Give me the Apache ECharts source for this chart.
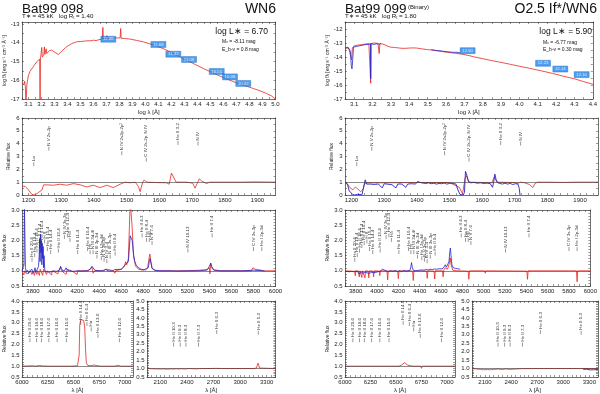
<!DOCTYPE html>
<html><head><meta charset="utf-8">
<script src="https://cdn.jsdelivr.net/npm/echarts@6.0.0/dist/echarts.min.js"></script>
<style>html,body{margin:0;padding:0;background:#fff;}#chart{width:600px;height:394px;}</style>
</head><body><div id="chart"></div>
<script>
// ================= DATA =================
// tick labels
const sedXTicks098 = [3.1,3.2,3.3,3.4,3.5,3.6,3.7,3.8,3.9,4.0,4.1,4.2,4.3,4.4,4.5,4.6,4.7,4.8,4.9,5.0];
const sedXTicks099 = [3.1,3.2,3.3,3.4,3.5,3.6,3.7,3.8,3.9,4.0,4.1,4.2,4.3,4.4];
const sedYTicks098 = [-17,-16,-15,-14,-13];
const sedYTicks099 = [-17,-16,-15,-14,-13,-12];
const uvXTicks = [1200,1300,1400,1500,1600,1700,1800,1900];
const uvYTicks = [0,1,2,3,4,5,6];
const optXTicks = [3800,4000,4200,4400,4600,4800,5000,5200,5400,5600,5800,6000];
const optYTicks = [0.5,1.0,1.5,2.0,2.5,3.0];
const haXTicks = [6000,6250,6500,6750,7000];
const haYTicks = [0.5,1.0,1.5,2.0,2.5,3.0,3.5,4.0];
const uv2XTicks = [2100,2400,2700,3000,3300];
const uv2YTicks = [0.5,1.0,1.5,2.0,2.5,3.0,3.5,4.0,4.5,5.0];

// SED Bat99 098 : [log lambda, log f_lambda]
const sed098Model = [[3.050,-16.10],[3.058,-16.02],[3.064,-16.25],[3.070,-16.05],[3.076,-16.35],[3.080,-17.3],[3.084,-17.3],[3.088,-16.2],[3.094,-15.95],[3.100,-15.73],[3.106,-15.80],[3.112,-15.52],[3.118,-15.60],[3.124,-15.40],[3.130,-15.44],[3.137,-15.28],[3.143,-15.33],[3.149,-15.15],[3.156,-15.20],[3.163,-15.02],[3.170,-15.05],[3.178,-14.93],[3.186,-14.86],[3.189,-17.3],[3.192,-14.86],[3.198,-14.80],[3.202,-14.25],[3.206,-14.76],[3.212,-14.70],[3.218,-14.64],[3.222,-14.22],[3.226,-14.62],[3.232,-14.58],[3.236,-14.32],[3.240,-14.57],[3.250,-14.48],[3.262,-14.42],[3.278,-14.39],[3.292,-14.44],[3.306,-14.52],[3.320,-14.59],[3.330,-14.62],[3.343,-14.55],[3.356,-14.45],[3.368,-14.39],[3.385,-14.25],[3.400,-14.16],[3.420,-14.09],[3.445,-14.01],[3.470,-13.95],[3.500,-13.93],[3.520,-13.92],[3.540,-13.90],[3.545,-13.80],[3.550,-13.90],[3.580,-13.89],[3.600,-13.86],[3.620,-13.88],[3.650,-13.82],[3.668,-13.80],[3.672,-13.18],[3.676,-13.80],[3.700,-13.78],[3.703,-13.62],[3.706,-13.78],[3.740,-13.76],[3.780,-13.74],[3.805,-13.74],[3.809,-13.24],[3.813,-13.76],[3.840,-13.77],[3.880,-13.80],[3.930,-13.87],[3.983,-13.95],[4.030,-14.05],[4.086,-14.18],[4.140,-14.32],[4.188,-14.48],[4.250,-14.70],[4.317,-14.93],[4.380,-15.15],[4.445,-15.37],[4.510,-15.58],[4.573,-15.78],[4.640,-15.97],[4.700,-16.14],[4.770,-16.30],[4.830,-16.44],[4.880,-16.56],[4.930,-16.70],[4.970,-16.84],[5.000,-17.00]];
const sed098Phot = [[3.714,-13.81],[4.099,-14.09],[4.214,-14.61],[4.335,-14.89],[4.548,-15.53],[4.650,-15.82],[4.752,-16.17]];
const sed098PhotLabels = ['12.88','11.68','11.32','11.08','10.51','10.38','10.22'];

// SED Bat99 099
const sed099Model = [[3.050,-13.38],[3.060,-13.42],[3.070,-13.36],[3.080,-13.45],[3.086,-14.20],[3.090,-13.35],[3.100,-13.20],[3.110,-13.22],[3.120,-13.15],[3.130,-13.18],[3.140,-13.12],[3.150,-13.14],[3.160,-13.07],[3.170,-13.10],[3.180,-13.05],[3.188,-13.04],[3.190,-15.88],[3.192,-13.04],[3.200,-13.06],[3.210,-13.00],[3.220,-13.05],[3.230,-13.03],[3.236,-13.75],[3.240,-13.05],[3.255,-13.07],[3.270,-13.15],[3.285,-13.24],[3.300,-13.30],[3.310,-13.40],[3.320,-13.32],[3.330,-13.42],[3.340,-13.35],[3.360,-13.38],[3.380,-13.38],[3.400,-13.36],[3.420,-13.35],[3.440,-13.36],[3.460,-13.40],[3.480,-13.44],[3.500,-13.47],[3.522,-13.50],[3.560,-13.57],[3.610,-13.67],[3.650,-13.73],[3.683,-13.79],[3.720,-13.88],[3.750,-13.98],[3.800,-14.12],[3.850,-14.26],[3.879,-14.33],[3.950,-14.52],[4.000,-14.66],[4.057,-14.81],[4.120,-14.99],[4.180,-15.17],[4.236,-15.36],[4.300,-15.56],[4.350,-15.76],[4.401,-15.95]];
const sed099Obs = [[3.050,-13.35],[3.058,-13.40],[3.066,-13.30],[3.074,-13.42],[3.080,-13.60],[3.084,-14.60],[3.088,-14.85],[3.092,-14.20],[3.096,-13.30],[3.104,-13.18],[3.112,-13.25],[3.120,-13.12],[3.128,-13.20],[3.136,-13.10],[3.144,-13.16],[3.152,-13.08],[3.160,-13.12],[3.168,-13.04],[3.176,-13.10],[3.184,-13.02],[3.189,-13.05],[3.190,-15.55],[3.191,-13.05],[3.198,-13.00],[3.206,-13.10],[3.214,-12.98],[3.222,-13.06],[3.230,-12.99],[3.238,-13.08],[3.246,-13.02],[null,null],[3.520,-13.48],[3.550,-13.54],[3.580,-13.58],[3.610,-13.63],[3.640,-13.67],[3.660,-13.66],[3.680,-13.72]];
const sed099Phot = [[3.718,-13.55],[4.129,-14.45],[4.223,-14.86],[4.339,-15.26]];
const sed099PhotLabels = ['12.60','12.23','12.14','12.10'];

// UV relative flux : [lambda, flux]
const uv098Model = [[1180,0.72],[1190,0.66],[1200,0.39],[1210,0.05],[1220,0.0],[1231,0.21],[1241,0.39],[1246,0.79],[1256,0.79],[1276,0.76],[1297,0.84],[1317,0.76],[1337,0.89],[1358,0.79],[1378,0.63],[1398,0.76],[1419,0.58],[1439,0.76],[1459,0.58],[1480,0.84],[1495,1.0],[1510,0.95],[1526,1.0],[1536,0.66],[1541,0.26],[1549,1.0],[1554,1.18],[1561,1.0],[1592,0.97],[1622,0.95],[1630,0.84],[1637,1.71],[1642,1.58],[1651,1.0],[1683,1.0],[1702,0.92],[1709,0.53],[1716,0.92],[1722,1.26],[1729,1.1],[1744,0.89],[1754,1.0],[1775,1.0],[1850,1.0],[1890,1.02],[1955,1.0]];
const uv099Model = [[1180,0.92],[1188,0.85],[1196,0.55],[1204,0.40],[1212,0.62],[1220,0.45],[1228,0.25],[1236,0.5],[1240,0.9],[1250,0.95],[1300,0.95],[1400,0.97],[1500,0.97],[1530,0.6],[1540,0.1],[1548,1.3],[1552,1.5],[1560,1.0],[1630,0.95],[1637,1.4],[1645,1.0],[1700,0.97],[1710,0.9],[1717,1.0],[1722,1.05],[1730,0.95],[1745,0.82],[1755,0.58],[1762,0.9],[1770,1.0],[1800,1.0],[1850,0.98],[1890,1.0],[1955,1.0]];
const uv099Obs = [[1183,1.0],[1188,0.79],[1193,0.32],[1198,0.21],[1203,0.05],[1210,0.0],[1218,0.05],[1224,0.0],[1232,0.02],[1238,0.1],[1242,1.18],[1246,0.85],[1252,0.92],[1258,0.85],[1264,0.9],[1270,0.82],[1276,0.9],[1282,0.86],[1288,0.92],[1294,0.55],[1300,0.88],[1306,0.92],[1312,0.84],[1318,0.9],[1324,0.8],[1330,0.88],[1336,0.55],[1342,0.86],[1348,0.92],[1354,0.85],[1360,0.9],[1366,0.6],[1372,0.85],[1378,0.92],[1384,0.88],[1390,0.95],[1396,0.85],[1402,1.05],[1408,1.1],[1414,0.95],[1420,1.0],[1428,0.9],[1436,0.95],[1444,0.88],[1452,0.92],[1460,0.85],[1468,0.9],[1476,0.88],[1484,0.93],[1492,0.85],[1500,0.9],[1508,0.92],[1514,0.8],[1520,0.85],[1526,0.4],[1532,0.05],[1538,0.0],[1542,0.0],[1546,0.2],[1549,1.85],[1553,1.55],[1558,1.05],[1565,0.95],[1575,0.98],[1585,0.92],[1595,0.95],[1605,0.9],[1615,0.93],[1625,0.88],[1632,0.6],[1636,1.1],[1639,1.63],[1643,1.2],[1648,0.95],[1655,0.9],[1662,0.85],[1670,0.92],[1678,0.85],[1686,0.9],[1694,0.82],[1702,0.88],[1710,0.85],[1714,0.5],[1716,0.0]];

// Optical relative flux
const opt098Obs = [[3700,1.0],[3712,0.97],[3718,1.2],[3722,3.1],[3727,3.1],[3731,1.1],[3740,0.95],[3750,1.02],[3760,0.92],[3770,1.0],[3780,0.95],[3790,1.05],[3800,0.93],[3810,1.0],[3818,1.1],[3826,0.95],[3834,1.0],[3842,0.95],[3850,1.15],[3856,1.5],[3860,2.05],[3864,1.3],[3868,2.2],[3872,1.6],[3876,2.0],[3880,1.2],[3884,1.9],[3888,1.4],[3892,1.8],[3896,1.1],[3900,1.5],[3906,1.05],[3912,0.98],[3925,1.0],[3940,0.96],[3955,1.0],[3970,0.97],[3990,1.0],[4010,0.98],[4040,1.02],[4050,1.15],[4058,1.08],[4070,1.0],[4090,1.02],[4100,1.1],[4110,1.03],[4130,1.0],[4160,0.98],[4200,1.0],[4240,0.99],[4290,1.0],[4320,1.05],[4335,1.15],[4345,1.1],[4360,1.02],[4400,1.0],[4440,1.0],[4460,1.05],[4470,1.08],[4480,1.0],[4520,0.99],[4540,1.04],[4550,1.0],[4600,1.05],[4620,1.12],[4635,1.2],[4650,1.15],[4665,1.3],[4675,1.8],[4682,2.15],[4690,2.2],[4700,2.0],[4710,1.6],[4720,1.35],[4735,1.2],[4750,1.12],[4780,1.05],[4820,1.03],[4845,1.1],[4855,1.3],[4862,1.4],[4870,1.25],[4880,1.08],[4900,1.02],[4950,1.0],[5000,1.0],[5050,1.0],[5100,0.99],[5200,1.0],[5300,1.0],[5380,1.03],[5400,1.15],[5412,1.25],[5420,1.15],[5440,1.03],[5500,1.0],[5600,1.0],[5700,1.0],[5800,1.02],[5900,1.0]];
const opt098Model = [[3700,0.98],[3718,0.88],[3725,1.0],[3740,0.9],[3760,0.92],[3775,1.0],[3790,0.88],[3800,0.95],[3813,0.85],[3820,1.0],[3835,0.88],[3842,1.0],[3858,0.85],[3865,1.05],[3888,0.85],[3895,1.05],[3923,0.88],[3930,1.0],[3968,0.86],[3975,1.0],[4026,0.9],[4032,1.0],[4050,1.12],[4058,1.0],[4100,0.88],[4110,1.05],[4150,1.0],[4200,0.88],[4206,1.0],[4300,1.0],[4335,1.12],[4345,0.92],[4360,1.0],[4420,1.0],[4470,1.05],[4480,1.0],[4530,1.0],[4542,0.92],[4550,1.0],[4600,1.05],[4630,1.15],[4640,1.3],[4650,1.2],[4665,1.4],[4675,2.5],[4682,3.3],[4692,3.3],[4700,2.4],[4712,1.5],[4730,1.15],[4760,1.05],[4800,1.02],[4840,1.1],[4852,1.4],[4860,1.55],[4868,1.35],[4880,1.08],[4920,1.0],[5000,1.0],[5100,1.0],[5200,1.0],[5380,1.03],[5400,1.1],[5405,0.9],[5412,1.25],[5420,1.1],[5440,1.02],[5500,1.0],[5780,1.0],[5795,1.1],[5806,1.12],[5815,1.05],[5830,1.0],[5870,1.02],[5880,1.04],[5890,1.0],[6000,1.0]];
const opt099Obs = [[3700,0.97],[3710,0.95],[3720,0.98],[3730,0.93],[3740,0.97],[3750,0.94],[3760,0.98],[3770,0.92],[3780,0.97],[3790,0.95],[3800,0.99],[3810,0.93],[3820,0.97],[3830,0.9],[3840,0.96],[3850,0.94],[3860,0.98],[3870,0.92],[3880,0.97],[3890,0.95],[3900,0.98],[3910,0.93],[3920,0.96],[3930,0.92],[3940,0.98],[3950,0.95],[3960,0.99],[3970,0.94],[3980,0.98],[3990,0.95],[4010,0.97],[4030,0.99],[4045,1.02],[4052,1.05],[4058,1.1],[4064,1.05],[4072,1.02],[4090,1.0],[4110,0.97],[4130,1.0],[4150,0.98],[4170,1.01],[4190,0.98],[4210,1.0],[4230,0.97],[4250,1.01],[4270,0.99],[4290,1.0],[4310,1.02],[4318,1.15],[4324,1.27],[4330,1.12],[4340,1.02],[4360,1.0],[4380,1.01],[4400,1.02],[4420,1.03],[4440,1.02],[4460,1.04],[4480,1.03],[4500,1.05],[4520,1.04],[4540,1.06],[4560,1.05],[4580,1.07],[4600,1.06],[4620,1.08],[4632,1.12],[4640,1.2],[4650,1.12],[4665,1.15],[4675,1.3],[4682,1.6],[4688,1.75],[4694,1.5],[4702,1.2],[4715,1.1],[4735,1.08],[4755,1.07],[4770,1.08],[4780,1.05]];
const opt099Model = [[3700,1.0],[3750,0.99],[3790,0.98],[3796,0.84],[3802,1.0],[3828,0.99],[3834,0.8],[3840,1.0],[3852,0.99],[3858,0.78],[3864,1.0],[3881,0.99],[3887,0.77],[3893,1.0],[3917,0.99],[3923,0.77],[3929,1.0],[3962,0.99],[3968,0.8],[3974,1.0],[4020,0.99],[4026,0.84],[4032,1.0],[4050,1.05],[4060,1.0],[4094,0.99],[4100,0.7],[4106,1.0],[4194,0.99],[4200,0.74],[4206,1.0],[4334,0.99],[4340,0.68],[4346,1.0],[4465,0.99],[4471,0.75],[4477,1.0],[4535,0.99],[4541,0.73],[4547,1.0],[4614,1.0],[4620,0.8],[4626,1.02],[4640,1.1],[4660,1.05],[4675,1.2],[4686,1.42],[4695,1.2],[4710,1.02],[4750,1.0],[4855,0.99],[4861,0.72],[4867,1.0],[5010,1.0],[5015,0.92],[5020,1.0],[5405,0.99],[5411,0.72],[5417,1.0],[5795,1.0],[5806,1.05],[5815,1.0],[5870,1.0],[5876,0.64],[5882,1.0],[6000,1.0]];

// H-alpha region
const ha098Model = [[6000,1.0],[6060,1.01],[6100,1.02],[6130,1.0],[6170,1.03],[6200,1.01],[6260,1.0],[6330,1.0],[6400,1.0],[6480,1.0],[6540,1.02],[6548,1.02],[6556,1.5],[6562,2.9],[6572,3.15],[6588,3.22],[6600,3.1],[6610,2.8],[6618,1.8],[6626,1.15],[6640,1.03],[6670,1.02],[6700,1.05],[6720,1.03],[6760,1.0],[6900,1.0],[6940,1.04],[6960,1.0],[7080,1.0]];
const ha099Model = [[6000,1.0],[6060,1.0],[6068,0.95],[6076,1.0],[6110,1.0],[6118,0.95],[6126,1.0],[6160,1.0],[6168,0.95],[6176,1.0],[6237,1.0],[6245,0.94],[6253,1.0],[6317,1.0],[6325,0.94],[6333,1.0],[6427,1.0],[6435,0.93],[6443,1.0],[6530,1.0],[6545,0.93],[6555,1.05],[6570,1.12],[6585,1.16],[6600,1.1],[6615,1.05],[6630,1.02],[6660,1.0],[6743,1.0],[6751,0.9],[6759,1.0],[6959,1.0],[6967,0.91],[6975,1.0],[7080,1.0]];

// Near-UV region
const uv2098Model = [[1950,1.0],[2000,0.99],[2050,0.98],[2100,0.97],[2140,0.98],[2180,0.96],[2220,0.98],[2253,0.97],[2280,0.99],[2306,0.97],[2340,0.99],[2385,0.97],[2420,1.0],[2470,0.99],[2511,0.98],[2540,1.0],[2650,1.0],[2715,1.01],[2733,1.06],[2750,1.01],[2800,1.0],[3150,1.0],[3185,1.03],[3195,1.2],[3203,1.32],[3211,1.2],[3220,1.03],[3240,1.0],[3400,1.0]];
const uv2099Model = [[1950,1.0],[2000,0.98],[2050,0.95],[2080,0.93],[2100,0.92],[2130,0.94],[2160,0.93],[2200,0.95],[2253,0.97],[2300,0.94],[2340,0.98],[2385,0.95],[2400,1.0],[2505,0.99],[2511,0.94],[2520,1.0],[2725,1.0],[2733,0.97],[2740,1.0],[3195,1.0],[3203,1.02],[3210,1.0],[3400,1.0]];
const uv2099Obs = [[3230,0.95],[3250,0.93],[3270,0.96],[3290,0.94],[3310,0.92],[3330,0.95],[3350,0.93],[3370,0.95],[3390,0.94],[3400,0.95]];

// line identifications : [lambda, flux at foot of tick, label]
const uvLineIds = [[1216,2.25,'Lα'],[1262,3.45,'N V 2s-2p'],[1485,3.1,'N IV 2s2p-2p²'],[1560,2.6,'C IV 2s-2p, N IV'],[1657,3.9,'He II 3-2'],[1718,3.85,'N IV']];
const optLineIds = [[3791,1.30,'He II 20-4'],[3815,1.45,'He II 19-4'],[3836,1.60,'He II 18-4'],[3858,1.75,'He II 17-4'],[3880,1.85,'He II 16-4'],[3905,1.90,'H 8'],[3930,1.65,'He II 15-4'],[3960,1.55,'He II 14-4'],[4030,1.60,'He II 13-4'],[4085,2.05,'N IV 3s-3p'],[4112,2.10,'He II 12-4'],[4135,1.95,'Hδ'],[4205,1.55,'He II 11-4'],[4295,1.65,'He II 10-4'],[4318,1.55,'Hγ'],[4345,1.55,'N III 3d-4f'],[4380,1.40,'N III 3p-3d'],[4420,1.35,'He I 2p-4d'],[4445,1.30,'N V 3s-3p'],[4470,1.25,'N IV 3-4'],[4500,1.40,'N III 3s-3p'],[4545,1.50,'He II 9-4'],[4790,2.10,'He II 4-3'],[4830,1.95,'He II 8-4'],[4855,1.95,'Hβ'],[4880,1.85,'N V 7-6'],[5205,1.60,'N IV 10-13'],[5425,2.10,'He II 7-4'],[5800,1.65,'C IV 3s-3p'],[5876,1.65,'He I 2p-3d']];
const haLineIds = [[6077,2.1,'He II 20-6'],[6142,2.1,'He II 19-6'],[6190,2.1,'He II 18-6'],[6261,2.1,'He II 17-6'],[6342,2.1,'He II 16-6'],[6432,2.1,'He II 15-6'],[6571,2.9,'He II 14-6'],[6632,2.85,'He II 6-4'],[6674,2.6,'Hα'],[6739,2.3,'He II 13-6'],[6948,2.1,'He II 12-6']];
const uv2LineIds = [[2250,2.3,'He II 10-3'],[2325,2.3,'He II 9-3'],[2389,2.3,'He II 8-3'],[2531,2.3,'He II 7-3'],[2737,3.05,'He II 6-3'],[3206,3.0,'He II 5-3']];

// ================= CHART =================
const FF = '"Liberation Sans", Arial, Helvetica, sans-serif';
const RED = '#e4271f', BLUE = '#2323c8', BOX = '#2385e8', INK = '#222';
function steps(a, b, s){ const r=[]; const n=Math.round((b-a)/s); for(let i=0;i<=n;i++) r.push(+(a+i*s).toFixed(4)); return r; }

const layout = [
  {left:22, top:22, width:253.5, height:77},
  {left:345, top:22, width:253, height:77},
  {left:22, top:118, width:253.5, height:77},
  {left:345, top:118, width:253, height:77},
  {left:22, top:210, width:253.5, height:76},
  {left:345, top:210, width:253, height:76},
  {left:22, top:301, width:111, height:78},
  {left:147, top:301, width:128.5, height:78},
  {left:345, top:301, width:110, height:78},
  {left:472, top:301, width:126, height:78}
];
const REL = 'Relative flux', SEDY = 'log fλ [erg s⁻¹ cm⁻² Å⁻¹]';
const spec = [
  {x:[3.05,5.0], xl:sedXTicks098, xt:steps(3.05,5.0,0.05), xd:1, y:[-17,-12.89], yl:sedYTicks098, yt:steps(-17,-13,0.5), yd:0, xn:'log λ [Å]', yn:SEDY, yg:15},
  {x:[3.05,4.4], xl:sedXTicks099, xt:steps(3.05,4.4,0.05), xd:1, y:[-17,-11.5], yl:sedYTicks099, yt:steps(-17,-11.5,0.5), yd:0, xn:'log λ [Å]', yn:SEDY, yg:15},
  {x:[1180,1955], xl:uvXTicks, xt:steps(1180,1940,20), xd:0, y:[0,6], yl:uvYTicks, yt:steps(0,6,0.5), yd:0, yn:REL, yg:11},
  {x:[1180,1955], xl:uvXTicks, xt:steps(1180,1940,20), xd:0, y:[0,6], yl:uvYTicks, yt:steps(0,6,0.5), yd:0, yn:REL, yg:11},
  {x:[3700,6000], xl:optXTicks, xt:steps(3700,6000,50), xd:0, y:[0.5,3.0], yl:optYTicks, yt:steps(0.5,3.0,0.1), yd:1, yn:REL, yg:14},
  {x:[3700,6000], xl:optXTicks, xt:steps(3700,6000,50), xd:0, y:[0.5,3.0], yl:optYTicks, yt:steps(0.5,3.0,0.1), yd:1, yn:REL, yg:14},
  {x:[6000,7080], xl:haXTicks, xt:steps(6000,7050,50), xd:0, y:[0.5,4.0], yl:haYTicks, yt:steps(0.5,4.0,0.1), yd:1, xn:'λ [Å]', yn:REL, yg:14},
  {x:[1950,3400], xl:uv2XTicks, xt:steps(1950,3400,50), xd:0, y:[0.5,5.0], yl:uv2YTicks, yt:steps(0.5,5.0,0.1), yd:1, xn:'λ [Å]'},
  {x:[6000,7080], xl:haXTicks, xt:steps(6000,7050,50), xd:0, y:[0.5,4.0], yl:haYTicks, yt:steps(0.5,4.0,0.1), yd:1, xn:'λ [Å]', yn:REL, yg:14},
  {x:[1950,3400], xl:uv2XTicks, xt:steps(1950,3400,50), xd:0, y:[0.5,5.0], yl:uv2YTicks, yt:steps(0.5,5.0,0.1), yd:1, xn:'λ [Å]'}
];

const xAxis = [], yAxis = [];
const axLine = {show:true, onZero:false, lineStyle:{color:'#333', width:0.7}};
spec.forEach((s, gi) => {
  const xt = s.xt.filter(v => v >= s.x[0] && v <= s.x[1]);
  const yt = s.yt.filter(v => v >= s.y[0] && v <= s.y[1]);
  const base = {type:'value', gridIndex:gi, splitLine:{show:false}, axisLine:axLine};
  xAxis.push(Object.assign({}, base, {position:'bottom', min:s.x[0], max:s.x[1],
    name:s.xn || '', nameLocation:'middle', nameGap:10, nameTextStyle:{fontSize:6, color:INK, fontFamily:FF},
    axisTick:{show:true, inside:true, length:2, customValues:xt, lineStyle:{color:'#333', width:0.5}},
    axisLabel:{show:true, customValues:s.xl, fontSize:6, color:INK, margin:2.5, fontFamily:FF, formatter:v => Number(v).toFixed(s.xd)}}));
  xAxis.push(Object.assign({}, base, {position:'top', min:s.x[0], max:s.x[1],
    axisTick:{show:true, inside:true, length:2, customValues:xt, lineStyle:{color:'#333', width:0.5}},
    axisLabel:{show:false}}));
  yAxis.push(Object.assign({}, base, {position:'left', min:s.y[0], max:s.y[1],
    name:s.yn || '', nameLocation:'middle', nameGap:s.yg || 12, nameRotate:90, nameTextStyle:{fontSize:5, color:INK, fontFamily:FF},
    axisTick:{show:true, inside:true, length:2, customValues:yt, lineStyle:{color:'#333', width:0.5}},
    axisLabel:{show:true, customValues:s.yl, fontSize:6, color:INK, margin:2.5, fontFamily:FF, formatter:v => Number(v).toFixed(s.yd)}}));
  yAxis.push(Object.assign({}, base, {position:'right', min:s.y[0], max:s.y[1],
    axisTick:{show:true, inside:true, length:2, customValues:yt, lineStyle:{color:'#333', width:0.5}},
    axisLabel:{show:false}}));
});

function line(gi, data, color, width, z, ref){
  const s = {type:'line', xAxisIndex:2*gi, yAxisIndex:2*gi, data:data, showSymbol:false, symbol:'none',
    connectNulls:false, clip:true, silent:true, animation:false, z:z,
    lineStyle:{color:color, width:width}, itemStyle:{color:color}};
  if (ref) s.markLine = {silent:true, symbol:['none','none'], label:{show:false}, animation:false,
    lineStyle:{color:'#3a3a3a', width:0.6, type:'solid'}, data:[{yAxis:1}]};
  return s;
}
function anno(gi, list){
  return {type:'custom', xAxisIndex:2*gi, yAxisIndex:2*gi, silent:true, animation:false, z:6, clip:false,
    data:list.map(d => [d[0], d[1]]), encode:{x:0, y:1},
    renderItem:function(params, api){
      const p = api.coord([api.value(0), api.value(1)]);
      const txt = list[params.dataIndex][2];
      return {type:'group', children:[
        {type:'line', shape:{x1:p[0], y1:p[1], x2:p[0], y2:p[1]-4}, style:{stroke:'#333', lineWidth:0.5}},
        {type:'text', x:p[0], y:p[1]-5, rotation:Math.PI/2,
          style:{text:txt, align:'left', verticalAlign:'middle', fontSize:4.4, fill:'#333', fontFamily:FF}}
      ]};
    }};
}
function phot(gi, data, labels){
  return {type:'scatter', xAxisIndex:2*gi, yAxisIndex:2*gi, data:data, symbol:'rect', symbolSize:[15,6],
    silent:true, animation:false, z:8, itemStyle:{color:BOX, borderColor:'#1560b8', borderWidth:0.4},
    label:{show:true, position:'inside', fontSize:4.3, color:'#fff', fontFamily:FF,
      formatter:p => labels[p.dataIndex]}};
}

const series = [
  line(0, sed098Model, RED, 0.8, 3),
  phot(0, sed098Phot, sed098PhotLabels),
  line(1, sed099Model, RED, 0.8, 3),
  line(1, sed099Obs, BLUE, 0.8, 4),
  phot(1, sed099Phot, sed099PhotLabels),
  line(2, uv098Model, RED, 0.8, 3, true),
  anno(2, uvLineIds),
  line(3, uv099Model, RED, 0.8, 3, true),
  line(3, uv099Obs, BLUE, 0.9, 4),
  anno(3, uvLineIds),
  line(4, opt098Model, RED, 0.8, 3, true),
  line(4, opt098Obs, BLUE, 0.8, 4),
  anno(4, optLineIds),
  line(5, opt099Model, RED, 0.8, 3, true),
  line(5, opt099Obs, BLUE, 0.8, 4),
  anno(5, optLineIds),
  line(6, ha098Model, RED, 0.8, 3, true),
  anno(6, haLineIds),
  line(7, uv2098Model, RED, 0.8, 3, true),
  anno(7, uv2LineIds),
  line(8, ha099Model, RED, 0.8, 3, true),
  anno(8, haLineIds),
  line(9, uv2099Model, RED, 0.8, 3, true),
  line(9, uv2099Obs, BLUE, 0.9, 4),
  anno(9, uv2LineIds)
];

function txt(x, y, text, size, align, extra){
  return {type:'text', x:x, y:y, silent:true, z:20,
    style:Object.assign({text:text, fontSize:size, fill:'#111', fontFamily:FF, align:align || 'left', verticalAlign:'middle'}, extra || {})};
}
const graphic = [
  txt(22, 9, 'Bat99 098', 13.5),
  txt(276, 9, 'WN6', 14, 'right'),
  txt(22, 16, 'T∗ = 45 kK   log Rₜ = 1.40', 6.2),
  txt(345, 9, 'Bat99 099', 13.5),
  txt(408, 7, '(Binary)', 6),
  txt(597, 9, 'O2.5 If*/WN6', 14, 'right'),
  txt(345, 16, 'T∗ = 45 kK   log Rₜ = 1.80', 6.2),
  txt(268, 32, 'log L∗ = 6.70', 8.5, 'right'),
  txt(222, 42, 'Mᵥ = -8.11 mag', 5),
  txt(222, 50, 'E_b-v = 0.8 mag', 5),
  txt(592, 32, 'log L∗ = 5.90', 8.5, 'right'),
  txt(543, 43, 'Mᵥ = -6.77 mag', 5),
  txt(543, 50, 'E_b-v = 0.30 mag', 5)
];

const chart = echarts.init(document.getElementById('chart'), null, {renderer:'canvas', width:600, height:394});
chart.setOption({
  animation:false,
  backgroundColor:'#fff',
  grid:layout.map(g => Object.assign({containLabel:false, show:false}, g)),
  xAxis:xAxis,
  yAxis:yAxis,
  series:series,
  graphic:graphic
});
</script></body></html>
